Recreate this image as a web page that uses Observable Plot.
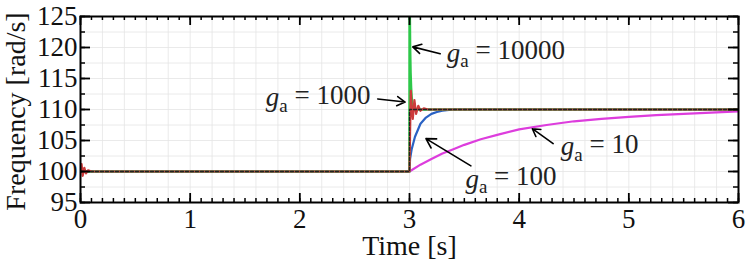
<!DOCTYPE html>
<html>
<head>
<meta charset="utf-8">
<script src="https://cdn.jsdelivr.net/npm/d3@7"></script>
<script src="https://cdn.jsdelivr.net/npm/@observablehq/plot@0.6"></script>
<style>
  html, body { margin: 0; padding: 0; background: #fff; }
  svg { display: block; }
</style>
</head>
<body>
<div id="chart"></div>
<script>
// ---- data ----
const xTicks = [0, 1, 2, 3, 4, 5, 6];
const yTicks = [95, 100, 105, 110, 115, 120, 125];

// reference (black dashed)
const refT = [0, 3, 3, 6];
const refF = [100, 100, 110, 110];

// g_a = 10000 (green)
const g10000T = [0, 2.999, 3.0005, 3.003, 3.006, 3.01, 3.015, 3.02, 3.03, 3.05, 6];
const g10000F = [100, 100, 132, 126, 120, 116, 113.5, 112, 110.6, 110, 110];

// g_a = 1000 (red)
const g1000T = [0, 0.01, 0.02, 0.035, 0.05, 0.07, 0.1, 3, 3.005, 3.012, 3.02, 3.03, 3.045, 3.06, 3.08, 3.1, 3.13, 3.17, 6];
const g1000F = [100, 101.2, 99.3, 100.6, 99.7, 100.2, 100, 100, 106, 113, 110.5, 108.5, 111.5, 109.3, 110.6, 109.8, 110.2, 110, 110];

// g_a = 100 (blue)
const g100T = [0, 3, 3.005, 3.02, 3.05, 3.1, 3.15, 3.2, 3.25, 3.3, 3.4, 6];
const g100F = [100, 100, 102, 103.6, 105.6, 107.7, 108.7, 109.3, 109.6, 109.8, 110, 110];

// g_a = 10 (magenta)
const g10T = [0, 3, 3.1, 3.2, 3.3, 3.4, 3.5, 3.65, 3.8, 4.0, 4.25, 4.5, 4.75, 5.0, 5.25, 5.5, 5.75, 6.0];
const g10F = [100, 100, 101.1, 102.0, 102.9, 103.6, 104.3, 105.2, 105.9, 106.8, 107.5, 108.1, 108.5, 108.8, 109.1, 109.3, 109.5, 109.7];

// annotation labels (anchor at left / middle of text) and arrows
const labelText = ["ga = 10000", "ga = 1000", "ga = 100", "ga = 10"];
const labelT = [3.34, 1.69, 3.51, 4.38];
const labelF = [119.1, 111.9, 98.8, 104.0];
const arrowT1 = [3.28, 2.71, 3.56, 4.31];
const arrowF1 = [119.0, 111.7, 100.9, 104.5];
const arrowT2 = [3.03, 2.96, 3.15, 4.12];
const arrowF2 = [120.1, 111.2, 105.3, 106.9];

const xlabel = "Time [s]";
const ylabel = "Frequency [rad/s]";

// ---- build ----
const zip = (t, f) => t.map((d, i) => ({t: d, f: f[i]}));
const W = 747, H = 262, mL = 80, mR = 9, mT = 16, mB = 60;
const plotW = W - mL - mR, plotH = H - mT - mB;

const xMinor = d3.range(0, 60.5, 1).map(d => d / 10);
const yMinor = d3.range(95, 125.1, 2.5);
const xGrid = d3.range(0, 30.5, 1).map(d => d / 5);

const labels = labelText.map((s, i) => ({s, t: labelT[i], f: labelF[i]}));
const arrows = arrowT1.map((d, i) => ({x1: d, y1: arrowF1[i], x2: arrowT2[i], y2: arrowF2[i]}));

const font = "'Liberation Serif', 'Times New Roman', serif";

const chart = Plot.plot({
  width: W, height: H,
  marginLeft: mL, marginRight: mR, marginTop: mT, marginBottom: mB,
  style: {fontFamily: font, background: "#fff"},
  x: {domain: [0, 6], axis: null},
  y: {domain: [95, 125], axis: null},
  marks: [
    Plot.ruleX(xGrid, {x: d => d, stroke: "#e4e4e4", strokeWidth: 0.8}),
    Plot.ruleY(yMinor, {y: d => d, stroke: "#e4e4e4", strokeWidth: 0.8}),
    Plot.line(zip(g10T, g10F), {x: "t", y: "f", stroke: "#dd3ddd", strokeWidth: 2.2, clip: true}),
    Plot.line(zip(g100T, g100F), {x: "t", y: "f", stroke: "#2a62c4", strokeWidth: 2.2, clip: true}),
    Plot.line(zip(g10000T, g10000F), {x: "t", y: "f", stroke: "#2ec84a", strokeWidth: 2.4, clip: true}),
    Plot.line(zip(g1000T, g1000F), {x: "t", y: "f", stroke: "#cc3b3b", strokeWidth: 2.2, clip: true}),
    Plot.line(zip(refT, refF), {x: "t", y: "f", stroke: "#222", strokeWidth: 1.3, strokeDasharray: "3,2", clip: true}),
    // inward ticks
    Plot.tickX(xMinor, {x: d => d, insetTop: plotH - 4, stroke: "#000", strokeWidth: 1.5}),
    Plot.tickX(xMinor, {x: d => d, insetBottom: plotH - 4, stroke: "#000", strokeWidth: 1.5}),
    Plot.tickX(xTicks, {x: d => d, insetTop: plotH - 9, stroke: "#000", strokeWidth: 1.8}),
    Plot.tickX(xTicks, {x: d => d, insetBottom: plotH - 9, stroke: "#000", strokeWidth: 1.8}),
    Plot.tickY(yMinor, {y: d => d, insetRight: plotW - 5, stroke: "#000", strokeWidth: 1.5}),
    Plot.tickY(yMinor, {y: d => d, insetLeft: plotW - 5, stroke: "#000", strokeWidth: 1.5}),
    Plot.tickY(yTicks, {y: d => d, insetRight: plotW - 10, stroke: "#000", strokeWidth: 1.8}),
    Plot.tickY(yTicks, {y: d => d, insetLeft: plotW - 10, stroke: "#000", strokeWidth: 1.8}),
    Plot.frame({stroke: "#000", strokeWidth: 2}),
    // tick labels
    Plot.text(xTicks, {x: d => d, text: d => String(d), frameAnchor: "bottom", dy: 17, lineAnchor: "middle", fontSize: 27, fill: "#111"}),
    Plot.text(yTicks, {y: d => d, text: d => String(d), frameAnchor: "left", dx: -3, textAnchor: "end", lineAnchor: "middle", fontSize: 27, fill: "#111"}),
    // axis labels
    Plot.text([xlabel], {text: d => d, frameAnchor: "bottom", dy: 44, textAnchor: "middle", lineAnchor: "middle", fontSize: 28, fill: "#111"}),
    Plot.text([ylabel], {text: d => d, frameAnchor: "left", dx: -64, dy: 2, rotate: -90, textAnchor: "middle", lineAnchor: "middle", fontSize: 28, fill: "#111"}),
    // annotations
    Plot.arrow(arrows, {x1: "x1", y1: "y1", x2: "x2", y2: "y2", stroke: "#000", strokeWidth: 1.6, headLength: 10}),
    Plot.text(labels, {x: "t", y: "f", text: "s", textAnchor: "start", lineAnchor: "middle", fontSize: 27, fill: "#222"})
  ]
});

// render "ga" as italic g with subscript a
d3.select(chart).selectAll("text").each(function() {
  const el = d3.select(this);
  const s = el.text();
  if (/^ga = /.test(s)) {
    const rest = s.slice(2);
    el.text(null);
    el.append("tspan").attr("font-style", "italic").text("g");
    el.append("tspan").attr("dy", "0.3em").attr("font-size", "0.7em").text("a");
    el.append("tspan").attr("dy", "-0.3em").text(" " + rest.trim().replace(/^=\s*/, "= "));
  }
});

document.getElementById("chart").appendChild(chart);
</script>
</body>
</html>
